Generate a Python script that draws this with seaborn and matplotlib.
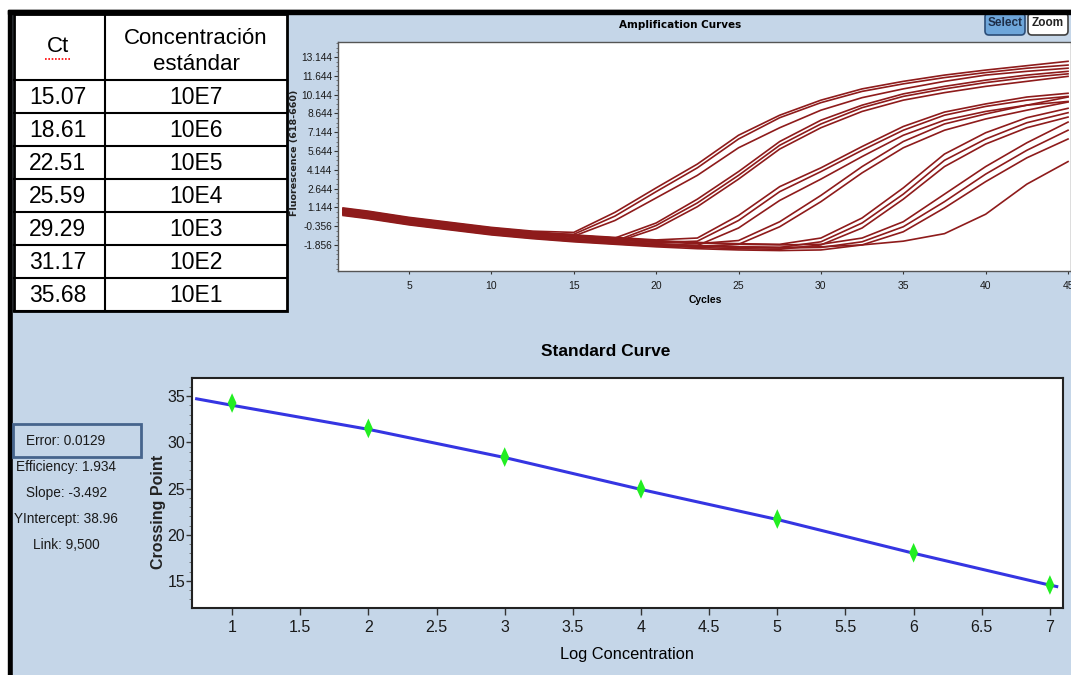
import pandas as pd
import matplotlib
matplotlib.use("Agg")
import matplotlib.pyplot as plt
from matplotlib.patches import Rectangle, FancyBboxPatch
from matplotlib.path import Path
from matplotlib.ticker import AutoMinorLocator, MultipleLocator
import seaborn as sns

# -----------------------------
# Data
# -----------------------------
ct_values = ["15.07", "18.61", "22.51", "25.59", "29.29", "31.17", "35.68"]
conc_labels = ["10E7", "10E6", "10E5", "10E4", "10E3", "10E2", "10E1"]

cycles = [1, 2.5, 5, 7.5, 10, 12.5, 15, 17.5, 20, 22.5, 25, 27.5, 30, 32.5, 35, 37.5, 40, 42.5, 45]
amp_curves = {
    "A1": [1.1, 0.85, 0.35, -0.05, -0.45, -0.75, -0.85, 0.75, 2.7, 4.6, 6.9, 8.5, 9.7, 10.6, 11.2, 11.7, 12.1, 12.45, 12.8],
    "A2": [0.95, 0.7, 0.2, -0.2, -0.6, -0.9, -1.0, 0.45, 2.4, 4.3, 6.6, 8.3, 9.5, 10.4, 11.0, 11.5, 11.9, 12.25, 12.5],
    "A3": [0.8, 0.55, 0.05, -0.35, -0.75, -1.05, -1.15, 0.1, 1.9, 3.7, 5.9, 7.5, 8.9, 9.9, 10.6, 11.2, 11.7, 12.0, 12.25],
    "B1": [1.0, 0.75, 0.25, -0.15, -0.55, -0.85, -1.1, -1.3, -0.1, 1.8, 4.0, 6.4, 8.1, 9.3, 10.2, 10.8, 11.3, 11.7, 12.0],
    "B2": [0.7, 0.45, -0.05, -0.45, -0.85, -1.15, -1.4, -1.55, -0.3, 1.5, 3.7, 6.1, 7.8, 9.1, 10.0, 10.6, 11.1, 11.5, 11.8],
    "B3": [0.6, 0.35, -0.15, -0.55, -0.95, -1.25, -1.5, -1.65, -0.55, 1.2, 3.4, 5.8, 7.5, 8.8, 9.7, 10.3, 10.8, 11.2, 11.6],
    "C1": [1.05, 0.8, 0.3, -0.1, -0.5, -0.8, -1.05, -1.25, -1.45, -1.3, 0.5, 2.8, 4.3, 6.0, 7.6, 8.75, 9.4, 9.95, 10.25],
    "C2": [0.85, 0.6, 0.1, -0.3, -0.7, -1.0, -1.25, -1.45, -1.65, -1.55, 0.1, 2.4, 4.0, 5.7, 7.3, 8.5, 9.2, 9.7, 10.0],
    "C3": [0.55, 0.3, -0.2, -0.6, -1.0, -1.3, -1.55, -1.75, -1.95, -1.9, -0.5, 1.7, 3.4, 5.2, 6.9, 8.1, 8.8, 9.3, 9.6],
    "D1": [0.9, 0.65, 0.15, -0.25, -0.65, -0.95, -1.2, -1.4, -1.6, -1.75, -1.5, 0.0, 2.1, 4.4, 6.4, 7.8, 8.6, 9.3, 9.95],
    "D2": [0.65, 0.4, -0.1, -0.5, -0.9, -1.2, -1.45, -1.65, -1.85, -2.0, -1.8, -0.4, 1.6, 3.9, 5.9, 7.3, 8.2, 8.9, 9.55],
    "E1": [1.0, 0.75, 0.25, -0.15, -0.55, -0.85, -1.1, -1.3, -1.5, -1.65, -1.75, -1.8, -1.3, 0.3, 2.7, 5.4, 7.1, 8.3, 9.05],
    "E2": [0.75, 0.5, 0.0, -0.4, -0.8, -1.1, -1.35, -1.55, -1.75, -1.9, -2.0, -2.05, -1.6, -0.1, 2.2, 4.9, 6.6, 7.9, 8.7],
    "E3": [0.6, 0.35, -0.15, -0.55, -0.95, -1.25, -1.5, -1.7, -1.9, -2.05, -2.15, -2.2, -1.85, -0.5, 1.8, 4.4, 6.2, 7.5, 8.35],
    "F1": [0.95, 0.7, 0.2, -0.2, -0.6, -0.9, -1.15, -1.35, -1.55, -1.7, -1.8, -1.85, -1.8, -1.3, 0.0, 2.2, 4.4, 6.3, 7.95],
    "F2": [0.7, 0.45, -0.05, -0.45, -0.85, -1.15, -1.4, -1.6, -1.8, -1.95, -2.05, -2.1, -2.05, -1.6, -0.4, 1.6, 3.8, 5.7, 7.3],
    "F3": [0.5, 0.25, -0.25, -0.65, -1.05, -1.35, -1.6, -1.8, -2.0, -2.15, -2.25, -2.3, -2.25, -1.85, -0.8, 1.1, 3.2, 5.1, 6.6],
    "G1": [0.75, 0.5, 0.0, -0.4, -0.8, -1.1, -1.35, -1.55, -1.75, -1.9, -2.0, -2.05, -2.0, -1.85, -1.55, -0.95, 0.6, 3.0, 4.8],
}
amp_ytick_labels = ["13.144", "11.644", "10.144", "8.644", "7.144", "5.644",
                    "4.144", "2.644", "1.144", "-0.356", "-1.856"]
amp_xticks = [5, 10, 15, 20, 25, 30, 35, 40, 45]

log_conc = [1, 2, 3, 4, 5, 6, 7]
crossing_point = [34.24, 31.5, 28.4, 24.95, 21.7, 18.05, 14.57]
fit_conc = [0.74, 1, 2, 3, 4, 5, 6, 7, 7.05]
fit_cp = [34.7, 34.0, 31.4, 28.35, 24.9, 21.65, 18.0, 14.55, 14.4]
std_xticks = [1, 1.5, 2, 2.5, 3, 3.5, 4, 4.5, 5, 5.5, 6, 6.5, 7]
std_yticks = [15, 20, 25, 30, 35]
stats_lines = ["Error: 0.0129", "Efficiency: 1.934", "Slope: -3.492",
               "YIntercept: 38.96", "Link: 9,500"]

# -----------------------------
# Style
# -----------------------------
W, H = 1071, 675
BG = "#C5D6E8"
SANS = ["Liberation Sans", "DejaVu Sans"]
BOLD_WIDE = ["DejaVu Sans"]

fig = plt.figure(figsize=(W / 100, H / 100), dpi=100, facecolor="white")


def px_axes(x0, y0, x1, y1):
    return fig.add_axes([x0 / W, 1 - y1 / H, (x1 - x0) / W, (y1 - y0) / H])


# background canvas in pixel coords
bg = fig.add_axes([0, 0, 1, 1])
bg.set_xlim(0, W)
bg.set_ylim(H, 0)
bg.axis("off")
bg.add_patch(Rectangle((8, 10), W, H, color="black"))
bg.add_patch(Rectangle((13, 14), W, H, color=BG))

# -----------------------------
# Table
# -----------------------------
tx0, tx1, tcol = 14, 287, 105
ty0, head_h, row_h = 14, 66, 33
ty1 = ty0 + head_h + len(ct_values) * row_h
bg.add_patch(Rectangle((tx0, ty0), tx1 - tx0, ty1 - ty0,
                       facecolor="white", edgecolor="black", lw=2))
bg.plot([tcol, tcol], [ty0, ty1], color="black", lw=1.5)
for i in range(len(ct_values) + 1):
    y = ty0 + head_h + i * row_h
    bg.plot([tx0, tx1], [y, y], color="black", lw=1.5)

bg.text((tx0 + tcol) / 2 - 2, 46, "Ct", ha="center", va="center", fontsize=16, family=SANS)
bg.plot([45, 70], [59, 59], color="red", lw=1.2, ls=(0, (1, 1)))
bg.text((tcol + tx1) / 2, 38, "Concentración", ha="center", va="center", fontsize=16, family=SANS)
bg.text((tcol + tx1) / 2, 64, "estándar", ha="center", va="center", fontsize=16, family=SANS)
for i, (ct, conc) in enumerate(zip(ct_values, conc_labels)):
    yc = ty0 + head_h + (i + 0.5) * row_h + 1
    bg.text((tx0 + tcol) / 2 - 2, yc, ct, ha="center", va="center", fontsize=16.5, family=SANS)
    bg.text((tcol + tx1) / 2, yc, conc, ha="center", va="center", fontsize=16.5, family=SANS)

# -----------------------------
# Amplification curves
# -----------------------------
rows = []
for well, values in amp_curves.items():
    for c, v in zip(cycles, values):
        rows.append({"well": well, "cycle": c, "fluorescence": v})
df_amp = pd.DataFrame(rows)

ax1 = px_axes(338, 42, 1071, 271)
sns.lineplot(data=df_amp, x="cycle", y="fluorescence", units="well", estimator=None,
             color="#8E1B1B", lw=1.2, ax=ax1, legend=False)
ax1.set_xlim(0.69, 45.18)
ax1.set_ylim(-3.93, 14.34)
ax1.set_xticks(amp_xticks)
ax1.set_yticks([float(s) for s in amp_ytick_labels])
ax1.set_yticklabels(amp_ytick_labels)
ax1.yaxis.set_minor_locator(AutoMinorLocator(4))
ax1.set_xlabel("")
ax1.set_ylabel("")
ax1.tick_params(axis="y", which="major", length=3, width=0.8, pad=1, labelsize=7.3, colors="#333333")
ax1.tick_params(axis="y", which="minor", length=1.5, width=0.6, colors="#666666")
ax1.tick_params(axis="x", length=2, width=0.8, pad=5, labelsize=7.5, colors="#333333")
for lab in ax1.get_xticklabels() + ax1.get_yticklabels():
    lab.set_fontfamily(SANS)
    lab.set_color("#1A1A1A")
for sp in ax1.spines.values():
    sp.set_color("#555555")
    sp.set_linewidth(1.0)

bg.text(680, 25, "Amplification Curves", ha="center", va="center",
        fontsize=7.5, fontweight="bold", family=BOLD_WIDE)
bg.text(295, 153, "Fluorescence (618-660)", ha="center", va="center", rotation=90,
        fontsize=6.8, fontweight="bold", family=BOLD_WIDE, color="#222222")
bg.text(705, 300, "Cycles", ha="center", va="center", fontsize=7.5,
        fontweight="bold", family=SANS)

# buttons
bg.add_patch(FancyBboxPatch((985, 13), 40, 22, boxstyle="round,pad=0,rounding_size=4",
                            facecolor="#6EA6DA", edgecolor="#2C4E78", lw=1.2))
bg.add_patch(FancyBboxPatch((1028, 13), 40, 22, boxstyle="round,pad=0,rounding_size=4",
                            facecolor="white", edgecolor="#404040", lw=1.2))
bg.add_patch(Rectangle((8, 10), W, 4, color="black"))
bg.text(1005, 23, "Select", ha="center", va="center", fontsize=8.5,
        fontweight="bold", family=SANS, color="#1E2E48")
bg.text(1048, 23, "Zoom", ha="center", va="center", fontsize=8.5,
        fontweight="bold", family=SANS, color="#222222")

# -----------------------------
# Standard curve
# -----------------------------
diamond = Path([(0, 1), (0.45, 0), (0, -1), (-0.45, 0), (0, 1)],
               [Path.MOVETO, Path.LINETO, Path.LINETO, Path.LINETO, Path.CLOSEPOLY])

ax2 = px_axes(192, 378, 1063, 608)
sns.lineplot(x=fit_conc, y=fit_cp, color="#3535E2", lw=2.2, ax=ax2)
sns.scatterplot(x=log_conc, y=crossing_point, marker=diamond, s=200, color="#22EE22",
                edgecolor="none", ax=ax2, zorder=3)
ax2.set_xlim(0.706, 7.096)
ax2.set_ylim(12.08, 36.95)
ax2.set_xticks(std_xticks)
ax2.set_xticklabels([f"{t:g}" for t in std_xticks])
ax2.set_yticks(std_yticks)
ax2.yaxis.set_minor_locator(MultipleLocator(1))
ax2.tick_params(axis="x", length=5, width=1, pad=4, labelsize=11.5, colors="#333333")
ax2.tick_params(axis="y", which="major", length=4, width=1, pad=1, labelsize=11.5, colors="#333333")
ax2.tick_params(axis="y", which="minor", length=2, width=0.6, colors="#666666")
for lab in ax2.get_xticklabels() + ax2.get_yticklabels():
    lab.set_fontfamily(SANS)
    lab.set_color("#1A1A1A")
for sp in ax2.spines.values():
    sp.set_color("#222222")
    sp.set_linewidth(1.5)

bg.text(606, 352, "Standard Curve", ha="center", va="center", fontsize=12.5,
        fontweight="bold", family=SANS)
bg.text(158, 512, "Crossing Point", ha="center", va="center", rotation=90,
        fontsize=11.5, fontweight="bold", family=SANS, color="#222222")
bg.text(627, 655, "Log Concentration", ha="center", va="center", fontsize=11.8,
        family=SANS)

# stats panel
bg.add_patch(Rectangle((13, 424), 128, 33, fill=False, edgecolor="#46648C", lw=2))
for i, line in enumerate(stats_lines):
    bg.text(66, 441 + i * 26, line, ha="center", va="center", fontsize=9.8,
            family=SANS, color="#1A1A1A")

plt.savefig("out.png", dpi=100, facecolor=fig.get_facecolor())
plt.close()
